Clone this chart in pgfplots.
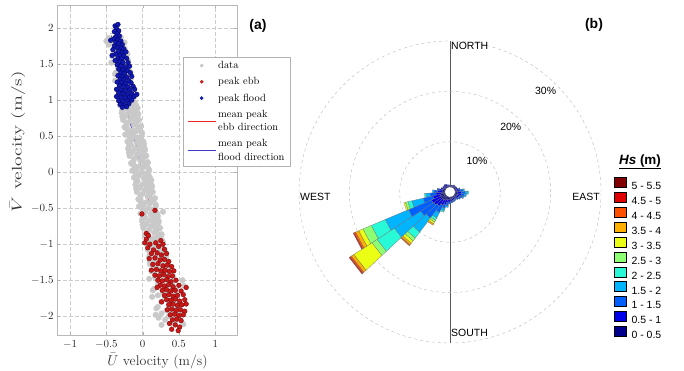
\documentclass[border=0pt]{standalone}
\usepackage{graphicx}
\usepackage{fontspec}
\usepackage{pgfplots}
\pgfplotsset{compat=1.18}
\usepgfplotslibrary{polar}
\newfontfamily\arial{Liberation Sans}
\definecolor{ebbred}{RGB}{200,25,25}
\definecolor{ebbedge}{RGB}{120,0,0}
\definecolor{floodblue}{RGB}{15,25,175}
\definecolor{floodedge}{RGB}{0,0,90}
\definecolor{ebbline}{RGB}{235,40,40}
\definecolor{floodline}{RGB}{60,60,200}
\definecolor{c1}{RGB}{0,0,140}
\definecolor{c2}{RGB}{0,0,235}
\definecolor{c3}{RGB}{0,95,255}
\definecolor{c4}{RGB}{0,180,255}
\definecolor{c5}{RGB}{40,250,215}
\definecolor{c6}{RGB}{140,255,115}
\definecolor{c7}{RGB}{235,255,20}
\definecolor{c8}{RGB}{255,175,0}
\definecolor{c9}{RGB}{255,80,0}
\definecolor{c10}{RGB}{225,0,0}
\definecolor{c11}{RGB}{128,0,0}
% one stacked segment of the rose: colour, bearing (deg from north, clockwise), r1, r2 (percent)
\newcommand\seg[4]{%
  \pgfmathsetmacro\aA{85-#2}%
  \pgfmathsetmacro\aB{95-#2}%
  \edef\segtemp{\noexpand\addplot[fill=#1,draw=black!55,line width=0.25pt] coordinates {(\aA,#3) (\aB,#3) (\aB,#4) (\aA,#4)} -- cycle;}%
  \segtemp}
\begin{document}
\begin{tikzpicture}
\path[use as bounding box] (0,0) rectangle (684bp,371bp);
% ---------------- panel (a) ----------------
\begin{axis}[
  at={(57bp,36bp)}, anchor=south west, scale only axis,
  width=180bp, height=330bp,
  xmin=-1.18, xmax=1.30, ymin=-2.26, ymax=2.32,
  xtick={-1,-0.5,0,0.5,1}, ytick={-2,-1.5,-1,-0.5,0,0.5,1,1.5,2},
  grid=major, major grid style={gray!40, dash pattern=on 4pt off 2pt, line width=0.5pt},
  axis line style={gray!55}, tick style={gray!60}, tick align=inside, major tick length=3bp,
  ticklabel style={font=\fontsize{10.5}{12}\selectfont, text=black!85},
  xticklabel style={yshift=-1.5bp},
  xlabel={$\bar{U}$ velocity (m/s)},
  ylabel={\scalebox{1.4}[1]{$\bar{V}$ velocity (m/s)}},
  label style={font=\fontsize{14}{16}\selectfont, text=black!80},
  xlabel style={at={(axis description cs:0.558,-0.080)}, anchor=center},
  ylabel style={at={(axis description cs:-0.219,0.586)}, anchor=center},
  legend style={at={(axis description cs:0.70,0.8424)}, anchor=north west,
    draw=gray!60, fill=white, font=\fontsize{10.5}{13.5}\selectfont,
    cells={align=left}, inner ysep=2bp, inner xsep=4bp, row sep=3.5bp},
  legend cell align=left,
  clip=false,
]
\addlegendimage{legend image code/.code={\fill[black!22] (14bp,0bp) circle[radius=1.6bp];}}
\addlegendimage{legend image code/.code={\fill[ebbred] (14bp,0bp) circle[radius=1.6bp];}}
\addlegendimage{legend image code/.code={\fill[floodblue] (14bp,0bp) circle[radius=1.6bp];}}
\addlegendimage{legend image code/.code={\draw[draw=ebbline, line width=1pt] (0bp,0bp) -- (28bp,0bp);}}
\addlegendimage{legend image code/.code={\draw[draw=floodline, line width=1pt] (0bp,0bp) -- (28bp,0bp);}}
% data
\addplot[forget plot, only marks, mark=*, mark size=2.8bp, color=black!21, mark options={draw=black!21, fill=black!21}] coordinates {
(-0.47,1.86) (-0.38,1.83) (-0.30,1.87) (-0.42,1.79) (-0.33,1.82) (-0.25,1.80)
(-0.47,1.77) (-0.35,1.75) (-0.30,1.73) (-0.38,1.70) (-0.28,1.69) (-0.25,1.72)
(-0.41,1.63) (-0.31,1.66) (-0.21,1.64) (-0.42,1.61) (-0.33,1.58) (-0.25,1.62)
(-0.37,1.54) (-0.28,1.57) (-0.20,1.55) (-0.43,1.52) (-0.31,1.50) (-0.26,1.48)
(-0.34,1.45) (-0.24,1.44) (-0.21,1.47) (-0.37,1.38) (-0.27,1.41) (-0.17,1.39)
(-0.38,1.36) (-0.29,1.33) (-0.21,1.37) (-0.33,1.29) (-0.24,1.32) (-0.16,1.30)
(-0.38,1.27) (-0.26,1.25) (-0.21,1.23) (-0.29,1.20) (-0.19,1.19) (-0.16,1.22)
(-0.32,1.13) (-0.22,1.16) (-0.12,1.14) (-0.33,1.11) (-0.24,1.08) (-0.16,1.12)
(-0.28,1.04) (-0.19,1.07) (-0.11,1.05) (-0.33,1.02) (-0.21,1.00) (-0.16,0.98)
(-0.24,0.95) (-0.14,0.94) (-0.11,0.97) (-0.27,0.88) (-0.17,0.91) (-0.07,0.89)
(-0.28,0.86) (-0.19,0.83) (-0.11,0.87) (-0.23,0.79) (-0.14,0.82) (-0.06,0.80)
(-0.28,0.77) (-0.16,0.75) (-0.11,0.73) (-0.19,0.70) (-0.09,0.69) (-0.06,0.72)
(-0.22,0.63) (-0.12,0.66) (-0.02,0.64) (-0.23,0.61) (-0.14,0.58) (-0.06,0.62)
(-0.18,0.54) (-0.09,0.57) (-0.01,0.55) (-0.24,0.52) (-0.12,0.50) (-0.07,0.48)
(-0.15,0.45) (-0.05,0.44) (-0.02,0.47) (-0.18,0.38) (-0.08,0.41) (0.02,0.39)
(-0.19,0.36) (-0.10,0.33) (-0.02,0.37) (-0.14,0.29) (-0.05,0.32) (0.03,0.30)
(-0.19,0.27) (-0.07,0.25) (-0.02,0.23) (-0.10,0.20) (0.00,0.19) (0.03,0.22)
(-0.13,0.13) (-0.03,0.16) (0.07,0.14) (-0.14,0.11) (-0.05,0.08) (0.03,0.12)
(-0.09,0.04) (0.00,0.07) (0.08,0.05) (-0.14,0.02) (-0.02,0.00) (0.03,-0.02)
(-0.05,-0.05) (0.05,-0.06) (0.08,-0.03) (-0.08,-0.12) (0.02,-0.09) (0.12,-0.11)
(-0.09,-0.14) (0.00,-0.17) (0.08,-0.13) (-0.04,-0.21) (0.05,-0.18) (0.13,-0.20)
(-0.09,-0.23) (0.03,-0.25) (0.08,-0.27) (0.00,-0.30) (0.10,-0.31) (0.13,-0.28)
(-0.03,-0.37) (0.07,-0.34) (0.17,-0.36) (-0.04,-0.39) (0.05,-0.42) (0.13,-0.38)
(0.01,-0.46) (0.10,-0.43) (0.18,-0.45) (-0.04,-0.48) (0.08,-0.50) (0.13,-0.52)
(0.04,-0.55) (0.14,-0.56) (0.17,-0.53) (0.01,-0.62) (0.11,-0.59) (0.21,-0.61)
(0.00,-0.64) (0.09,-0.67) (0.17,-0.63) (0.05,-0.71) (0.14,-0.68) (0.22,-0.70)
(0.00,-0.73) (0.12,-0.75) (0.17,-0.77) (0.09,-0.80) (0.19,-0.81) (0.22,-0.78)
(0.06,-0.87) (0.16,-0.84) (0.26,-0.86) (0.05,-0.89) (0.14,-0.92) (0.22,-0.88)
(0.10,-0.96) (0.19,-0.93) (0.27,-0.95) (0.05,-0.98) (0.17,-1.00) (0.22,-1.02)
(0.14,-1.05) (0.24,-1.06) (0.27,-1.03) (0.11,-1.12) (0.21,-1.09) (0.31,-1.11)
(0.10,-1.14) (0.19,-1.17) (0.27,-1.13) (0.15,-1.21) (0.24,-1.18) (0.32,-1.20)
(0.10,-1.23) (0.22,-1.25) (0.27,-1.27) (0.19,-1.30) (0.29,-1.31) (0.32,-1.28)
(0.16,-1.37) (0.26,-1.34) (0.36,-1.36) (0.15,-1.39) (0.24,-1.42) (0.32,-1.38)
(0.17,-1.46) (0.30,-1.43) (0.42,-1.45) (0.09,-1.48) (0.27,-1.50) (0.35,-1.52)
(0.21,-1.55) (0.36,-1.56) (0.41,-1.53) (0.16,-1.62) (0.31,-1.59) (0.46,-1.61)
(0.14,-1.64) (0.28,-1.67) (0.40,-1.63) (0.21,-1.71) (0.35,-1.68) (0.47,-1.70)
(0.13,-1.73) (0.31,-1.75) (0.39,-1.77) (0.26,-1.80) (0.41,-1.81) (0.46,-1.78)
(0.21,-1.87) (0.36,-1.84) (0.51,-1.86) (0.19,-1.89) (0.33,-1.92) (0.45,-1.88)
(0.26,-1.96) (0.40,-1.93) (0.52,-1.95) (0.18,-1.98) (0.36,-2.00) (0.44,-2.02)
(0.31,-2.05) (0.46,-2.06) (0.51,-2.03) (0.26,-2.12) (0.41,-2.09) (0.56,-2.11)
(0.28,-0.55) (0.57,-1.58) (-0.50,1.82) (0.22,-2.02) (0.55,-1.50)
(-0.28,0.975) (-0.16,0.975) (-0.26,0.875) (-0.14,0.875) (-0.24,0.775) (-0.12,0.775)
(-0.22,0.675) (-0.10,0.675) (-0.20,0.575) (-0.08,0.575) (-0.18,0.475) (-0.06,0.475)
(-0.16,0.375) (-0.04,0.375) (-0.14,0.275) (-0.02,0.275) (-0.12,0.175) (0.00,0.175)
(-0.10,0.075) (0.02,0.075) (-0.09,-0.025) (0.04,-0.025) (-0.07,-0.125) (0.05,-0.125)
(-0.05,-0.225) (0.07,-0.225) (-0.03,-0.325) (0.09,-0.325) (-0.01,-0.425) (0.11,-0.425)
(0.01,-0.525) (0.13,-0.525) (0.03,-0.625) (0.15,-0.625) (0.05,-0.725) (0.17,-0.725)
(0.07,-0.825) (0.19,-0.825) (0.09,-0.925) (0.21,-0.925) (0.11,-1.025) (0.23,-1.025)
(0.12,-1.125) (0.24,-1.125) (0.14,-1.225) (0.26,-1.225) (0.16,-1.325) (0.28,-1.325)
(0.18,-1.425) (0.30,-1.425)
(-0.31,0.925) (-0.09,0.925) (-0.29,0.825) (-0.07,0.825) (-0.27,0.725) (-0.05,0.725)
(-0.25,0.625) (-0.03,0.625) (-0.23,0.525) (-0.01,0.525) (-0.21,0.425) (0.01,0.425)
(-0.20,0.325) (0.03,0.325) (-0.18,0.225) (0.05,0.225) (-0.16,0.125) (0.07,0.125)
(-0.14,0.025) (0.09,0.025) (-0.12,-0.075) (0.10,-0.075) (-0.10,-0.175) (0.12,-0.175)
(-0.08,-0.275) (0.14,-0.275) (-0.06,-0.375) (0.16,-0.375) (-0.05,-0.475) (0.18,-0.475)
(-0.03,-0.575) (0.20,-0.575) (-0.01,-0.675) (0.22,-0.675) (0.01,-0.775) (0.24,-0.775)
(0.03,-0.875) (0.26,-0.875) (0.05,-0.975) (0.28,-0.975) (0.07,-1.075) (0.30,-1.075)
(0.09,-1.175) (0.32,-1.175) (0.10,-1.275) (0.34,-1.275) (0.12,-1.375) (0.36,-1.375)
};
% peak ebb
\addplot[forget plot, only marks, mark=*, mark size=2.4bp, color=ebbedge, mark options={draw=ebbedge, fill=ebbred, line width=0.3pt}] coordinates {
(-0.01,-0.58) (0.17,-0.53) (0.05,-0.85) (0.08,-0.88) (0.03,-0.98) (0.10,-1.00) (0.07,-1.05) (0.25,-0.95) (0.28,-1.00) (0.22,-1.03)
(0.15,-1.08) (0.30,-1.07) (0.12,-1.13) (0.20,-1.12) (0.26,-1.15) (0.33,-1.13) (0.09,-1.20) (0.17,-1.19) (0.24,-1.22) (0.30,-1.21)
(0.36,-1.24) (0.14,-1.28) (0.21,-1.27) (0.28,-1.30) (0.34,-1.29) (0.40,-1.31) (0.12,-1.36) (0.19,-1.35) (0.25,-1.37) (0.31,-1.36)
(0.37,-1.38) (0.43,-1.37) (0.17,-1.43) (0.23,-1.44) (0.29,-1.42) (0.35,-1.45) (0.41,-1.44) (0.21,-1.50) (0.27,-1.51) (0.33,-1.49)
(0.39,-1.52) (0.46,-1.50) (0.24,-1.57) (0.30,-1.58) (0.36,-1.56) (0.42,-1.59) (0.50,-1.57) (0.27,-1.64) (0.33,-1.63) (0.39,-1.65)
(0.45,-1.64) (0.53,-1.65) (0.30,-1.71) (0.36,-1.70) (0.42,-1.72) (0.48,-1.71) (0.56,-1.70) (0.33,-1.77) (0.39,-1.78) (0.45,-1.76)
(0.51,-1.79) (0.58,-1.77) (0.36,-1.84) (0.42,-1.83) (0.48,-1.85) (0.54,-1.84) (0.60,-1.83) (0.34,-1.91) (0.40,-1.90) (0.46,-1.92)
(0.52,-1.91) (0.58,-1.93) (0.38,-1.98) (0.44,-1.97) (0.50,-1.99) (0.56,-1.98) (0.41,-2.05) (0.47,-2.04) (0.53,-2.06) (0.37,-2.10)
(0.45,-2.12) (0.51,-2.15) (0.40,-2.18) (0.49,-2.20) (0.20,-1.60) (0.26,-1.80) (0.60,-1.60) (0.05,-0.93) (0.18,-0.98)
};
% mean peak flood direction (partly under the flood points)
\addplot[forget plot, color=floodline, line width=0.9pt] coordinates {(0,0) (-0.30,1.20)};
% peak flood
\addplot[forget plot, only marks, mark=*, mark size=2.4bp, color=floodedge, mark options={draw=floodedge, fill=floodblue, line width=0.3pt}] coordinates {
(-0.38,2.03) (-0.34,2.05) (-0.36,1.99) (-0.33,1.96) (-0.39,1.95) (-0.35,1.92) (-0.37,1.88) (-0.32,1.89) (-0.40,1.85) (-0.34,1.84)
(-0.30,1.82) (-0.37,1.80) (-0.33,1.78) (-0.28,1.77) (-0.39,1.75) (-0.35,1.73) (-0.30,1.72) (-0.26,1.71) (-0.41,1.70) (-0.33,1.68)
(-0.28,1.66) (-0.23,1.67) (-0.37,1.64) (-0.31,1.62) (-0.26,1.61) (-0.34,1.58) (-0.29,1.57) (-0.22,1.58) (-0.38,1.55) (-0.32,1.53)
(-0.27,1.52) (-0.20,1.52) (-0.35,1.49) (-0.30,1.47) (-0.24,1.46) (-0.18,1.47) (-0.33,1.43) (-0.27,1.42) (-0.21,1.41) (-0.30,1.38)
(-0.25,1.37) (-0.17,1.38) (-0.34,1.34) (-0.28,1.33) (-0.22,1.32) (-0.15,1.33) (-0.31,1.29) (-0.26,1.28) (-0.19,1.27) (-0.35,1.25)
(-0.29,1.24) (-0.23,1.23) (-0.16,1.24) (-0.32,1.20) (-0.26,1.19) (-0.20,1.18) (-0.13,1.19) (-0.36,1.15) (-0.30,1.14) (-0.24,1.13)
(-0.18,1.14) (-0.11,1.15) (-0.33,1.10) (-0.27,1.09) (-0.21,1.08) (-0.15,1.09) (-0.36,1.05) (-0.30,1.04) (-0.24,1.03) (-0.18,1.04)
(-0.12,1.05) (-0.33,0.99) (-0.27,0.98) (-0.21,0.99) (-0.15,1.00) (-0.31,0.94) (-0.25,0.93) (-0.19,0.95) (-0.28,0.90) (-0.22,0.91)
(-0.08,1.08) (-0.44,1.83) (-0.42,1.62)
};
% mean peak ebb direction
\addplot[forget plot, color=ebbline, line width=0.9pt] coordinates {(0,0) (0.31,-1.46)};
% principal axis (dotted)
\addplot[forget plot, black, densely dotted, line width=0.6pt] coordinates {(0,0) (-0.44,1.93)};
\legend{data, peak ebb, peak flood, mean peak\\ebb direction, mean peak\\flood direction}
\end{axis}
\node[font=\arial\bfseries\fontsize{14}{16}\selectfont] at (258bp,345bp) {(a)};
% ---------------- panel (b) ----------------
\begin{polaraxis}[
  at={(450bp,179bp)}, anchor=center, scale only axis,
  width=302bp, height=302bp,
  ymin=0, ymax=30,
  xtick={90,270}, ytick={10,20},
  xticklabels={,,}, yticklabels={,,},
  xmajorgrids, ymajorgrids,
  major x grid style={black!65, line width=0.5pt},
  major y grid style={gray!55, dashed, line width=0.4pt},
  axis line style={gray!55, dashed, line width=0.4pt},
  y axis line style={draw=none},
  tick style={draw=none},
  clip=false,
  legend style={at={(axis description cs:1.043,0.5497)}, anchor=north west,
    draw=none, fill=none, inner sep=0pt, row sep=1bp, column sep=5bp,
    font=\arial\fontsize{10.5}{12}\selectfont,
    nodes={inner sep=0pt, text height=8.7bp, text depth=1.3bp}},
  legend cell align=left,
  legend image code/.code={\draw[#1] (0bp,-1.3bp) rectangle (12bp,8.7bp);},
]
\addlegendimage{fill=c11, draw=black}
\addlegendimage{fill=c10, draw=black}
\addlegendimage{fill=c9, draw=black}
\addlegendimage{fill=c8, draw=black}
\addlegendimage{fill=c7, draw=black}
\addlegendimage{fill=c6, draw=black}
\addlegendimage{fill=c5, draw=black}
\addlegendimage{fill=c4, draw=black}
\addlegendimage{fill=c3, draw=black}
\addlegendimage{fill=c2, draw=black}
\addlegendimage{fill=c1, draw=black}
% bearing 232
\seg{c1}{232}{1}{2}\seg{c2}{232}{2}{3.8}\seg{c3}{232}{3.8}{7}\seg{c4}{232}{7}{13.2}
\seg{c5}{232}{13.2}{17.3}\seg{c6}{232}{17.3}{18.5}\seg{c7}{232}{18.5}{22.8}
\seg{c8}{232}{22.8}{23.4}\seg{c9}{232}{23.4}{23.7}\seg{c10}{232}{23.7}{23.9}
% bearing 242
\seg{c1}{242}{1}{2}\seg{c2}{242}{2}{4}\seg{c3}{242}{4}{9}\seg{c4}{242}{9}{14}
\seg{c5}{242}{14}{17}\seg{c6}{242}{17}{18.8}\seg{c7}{242}{18.8}{19.7}
\seg{c8}{242}{19.7}{20.4}\seg{c9}{242}{20.4}{20.7}\seg{c10}{242}{20.7}{20.9}
% bearing 222
\seg{c1}{222}{1}{2}\seg{c2}{222}{2}{3.5}\seg{c3}{222}{3.5}{6.5}\seg{c4}{222}{6.5}{10}
\seg{c5}{222}{10}{11.5}\seg{c6}{222}{11.5}{12.2}\seg{c7}{222}{12.2}{12.8}
\seg{c8}{222}{12.8}{13.2}\seg{c9}{222}{13.2}{13.4}
% bearing 212
\seg{c1}{212}{1}{1.8}\seg{c2}{212}{1.8}{3}\seg{c3}{212}{3}{4.6}\seg{c4}{212}{4.6}{5.8}
\seg{c5}{212}{5.8}{6.3}\seg{c6}{212}{6.3}{6.7}\seg{c7}{212}{6.7}{7.1}\seg{c8}{212}{7.1}{7.4}
% bearing 202, 192, 182
\seg{c1}{202}{1}{1.6}\seg{c2}{202}{1.6}{2.6}\seg{c3}{202}{2.6}{3.4}\seg{c4}{202}{3.4}{3.9}\seg{c5}{202}{3.9}{4.2}
\seg{c1}{192}{1}{1.5}\seg{c2}{192}{1.5}{2.2}\seg{c3}{192}{2.2}{2.8}\seg{c4}{192}{2.8}{3.1}
\seg{c1}{182}{1}{1.5}\seg{c2}{182}{1.5}{2}\seg{c3}{182}{2}{2.4}
% bearings 172 ... 122
\seg{c1}{172}{1}{1.4}\seg{c2}{172}{1.4}{1.9}\seg{c3}{172}{1.9}{2.2}
\seg{c1}{162}{1}{1.4}\seg{c2}{162}{1.4}{1.8}\seg{c3}{162}{1.8}{2.1}
\seg{c1}{152}{1}{1.3}\seg{c2}{152}{1.3}{1.7}\seg{c3}{152}{1.7}{2.0}
\seg{c1}{142}{1}{1.3}\seg{c2}{142}{1.3}{1.7}\seg{c3}{142}{1.7}{1.9}
\seg{c1}{132}{1}{1.3}\seg{c2}{132}{1.3}{1.8}\seg{c3}{132}{1.8}{2.1}
\seg{c1}{122}{1}{1.4}\seg{c2}{122}{1.4}{2.0}\seg{c3}{122}{2.0}{2.4}
% bearings 112 ... 72
\seg{c1}{112}{1}{1.4}\seg{c2}{112}{1.4}{2.1}\seg{c3}{112}{2.1}{2.7}\seg{c4}{112}{2.7}{2.9}
\seg{c1}{102}{1}{1.5}\seg{c2}{102}{1.5}{2.3}\seg{c3}{102}{2.3}{2.9}\seg{c4}{102}{2.9}{3.3}
\seg{c1}{92}{1}{1.5}\seg{c2}{92}{1.5}{2.3}\seg{c3}{92}{2.3}{3.0}\seg{c4}{92}{3.0}{3.5}\seg{c5}{92}{3.5}{3.7}
\seg{c1}{82}{1}{1.4}\seg{c2}{82}{1.4}{2.0}\seg{c3}{82}{2.0}{2.6}\seg{c4}{82}{2.6}{2.9}
\seg{c1}{72}{1}{1.3}\seg{c2}{72}{1.3}{1.8}\seg{c3}{72}{1.8}{2.1}
% bearings 62 ... 2
\seg{c1}{62}{1}{1.3}\seg{c2}{62}{1.3}{1.6}
\seg{c1}{52}{1}{1.3}\seg{c2}{52}{1.3}{1.6}
\seg{c1}{42}{1}{1.3}\seg{c2}{42}{1.3}{1.5}
\seg{c1}{32}{1}{1.3}\seg{c2}{32}{1.3}{1.6}
\seg{c1}{22}{1}{1.2}\seg{c2}{22}{1.2}{1.4}
\seg{c1}{12}{1}{1.2}\seg{c2}{12}{1.2}{1.4}
\seg{c1}{2}{1}{1.2}\seg{c2}{2}{1.2}{1.4}
% bearings 352 ... 292
\seg{c1}{352}{1}{1.2}\seg{c2}{352}{1.2}{1.4}
\seg{c1}{342}{1}{1.3}\seg{c2}{342}{1.3}{1.5}
\seg{c1}{332}{1}{1.3}\seg{c2}{332}{1.3}{1.7}
\seg{c1}{322}{1}{1.3}\seg{c2}{322}{1.3}{1.8}
\seg{c1}{312}{1}{1.3}\seg{c2}{312}{1.3}{1.7}
\seg{c1}{302}{1}{1.3}\seg{c2}{302}{1.3}{1.7}
\seg{c1}{292}{1}{1.4}\seg{c2}{292}{1.4}{1.9}
% bearings 282 ... 252
\seg{c1}{282}{1}{1.5}\seg{c2}{282}{1.5}{2.2}\seg{c3}{282}{2.2}{2.6}
\seg{c1}{272}{1}{1.6}\seg{c2}{272}{1.6}{2.5}\seg{c3}{272}{2.5}{3.2}\seg{c4}{272}{3.2}{3.5}
\seg{c1}{262}{1}{1.7}\seg{c2}{262}{1.7}{2.8}\seg{c3}{262}{2.8}{4}\seg{c4}{262}{4}{4.8}\seg{c5}{262}{4.8}{5.1}
\seg{c1}{252}{1}{2}\seg{c2}{252}{2}{3.5}\seg{c3}{252}{3.5}{5.5}\seg{c4}{252}{5.5}{7.8}
\seg{c5}{252}{7.8}{8.6}\seg{c6}{252}{8.6}{9.1}\seg{c7}{252}{9.1}{9.4}
\legend{5 - 5.5, 4.5 - 5, 4 - 4.5, 3.5 - 4, 3 - 3.5, 2.5 - 3, 2 - 2.5, 1.5 - 2, 1 - 1.5, 0.5 - 1, 0 - 0.5}
\fill[white] (axis cs:0,0) circle[radius=4.8bp];
\node[font=\arial\fontsize{10.5}{12}\selectfont, anchor=north west, inner sep=1bp] at (axis cs:90,30) {NORTH};
\node[font=\arial\fontsize{10.5}{12}\selectfont, anchor=south west, inner sep=1bp, yshift=5bp] at (axis cs:270,30) {SOUTH};
\node[font=\arial\fontsize{10.5}{12}\selectfont, anchor=west, inner sep=1bp, yshift=-5bp] at (axis cs:180,30) {WEST};
\node[font=\arial\fontsize{10.5}{12}\selectfont, anchor=east, inner sep=1bp, yshift=-5bp] at (axis cs:0,30) {EAST};
\node[font=\arial\fontsize{10.5}{12}\selectfont] at (axis cs:49,8.2) {10\%};
\node[font=\arial\fontsize{10.5}{12}\selectfont] at (axis cs:47,17.7) {20\%};
\node[font=\arial\fontsize{10.5}{12}\selectfont] at (axis cs:46.5,27.6) {30\%};
\end{polaraxis}
\node[font=\arial\bfseries\fontsize{13.5}{15}\selectfont] at (640bp,209bp) {\underline{\textit{Hs} (m)}};
\node[font=\arial\bfseries\fontsize{14}{16}\selectfont] at (594bp,346bp) {(b)};
\end{tikzpicture}
\end{document}
